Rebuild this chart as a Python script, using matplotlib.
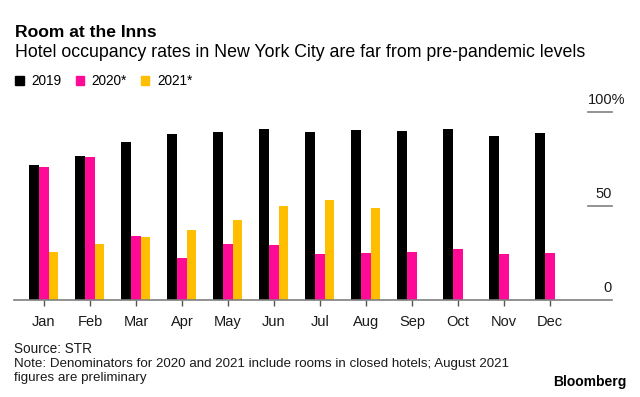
import numpy as np
import matplotlib
matplotlib.use('Agg')
from matplotlib import pyplot as plt
from matplotlib.patches import Patch
from matplotlib.transforms import blended_transform_factory

plt.rcParams['font.family'] = ['Liberation Sans', 'DejaVu Sans']

# occupancy rates (%)
months = ['Jan', 'Feb', 'Mar', 'Apr', 'May', 'Jun', 'Jul', 'Aug', 'Sep', 'Oct', 'Nov', 'Dec']
occ_2019 = [71.6, 76.8, 84.0, 88.3, 89.4, 90.8, 89.4, 90.2, 89.7, 90.8, 87.2, 88.8]
occ_2020 = [70.9, 76.3, 34.0, 22.5, 29.8, 29.3, 24.6, 25.2, 25.7, 27.3, 24.6, 25.2]
occ_2021 = [25.5, 29.8, 33.5, 37.1, 42.4, 50.2, 53.4, 49.1, 0, 0, 0, 0]
y_ticks = [0, 50, 100]
y_labels = ['0', '50', '100%']

series = [('2019', occ_2019, '#000000'),
          ('2020*', occ_2020, '#ff0a96'),
          ('2021*', occ_2021, '#ffbf00')]

fig = plt.figure(figsize=(6.4, 3.97), dpi=100)
ax = fig.add_axes([14 / 640, 1 - 300 / 397, (612 - 14) / 640, (300 - 112) / 397])

x = np.arange(len(months))
w = 0.21
for i, (name, vals, col) in enumerate(series):
    ax.bar(x + (i - 1) * w, vals, width=w, color=col, label=name, zorder=2)

ax.set_xlim(-0.65, 12.35)
ax.set_ylim(0, 100)
for s in ['top', 'right', 'left']:
    ax.spines[s].set_visible(False)
ax.spines['bottom'].set_color('#7f7f7f')
ax.spines['bottom'].set_linewidth(1.2)
ax.spines['bottom'].set_zorder(3)
ax.set_xticks(x)
ax.set_xticklabels(months, fontsize=10.5, color='#1a1a1a')
ax.tick_params(axis='x', length=4, width=1, color='#555555', pad=7)
ax.set_yticks([])

# right-hand value scale: short rules with labels sitting on top
tr = blended_transform_factory(ax.transAxes, ax.transData)
for v, lab in zip(y_ticks, y_labels):
    if v > 0:
        ax.plot([0.96, 1.0], [v, v], color='#7f7f7f', lw=1.2, transform=tr, clip_on=False)
    ax.text(1.0 if v < 100 else 1.0 + 13 / 598, v + 6.5, lab, transform=tr,
            ha='right', va='center', fontsize=10.5, color='#1a1a1a')

fig.text(15 / 640, 1 - 37 / 397, 'Room at the Inns', fontsize=12.6, fontweight='bold',
         va='baseline', ha='left')
fig.text(15 / 640, 1 - 57 / 397,
         'Hotel occupancy rates in New York City are far from pre-pandemic levels',
         fontsize=12.8, va='baseline', ha='left')

handles = [Patch(color=col, label=name) for name, vals, col in series]
fig.legend(handles=handles, loc='center left', bbox_to_anchor=(10 / 640, 1 - 81 / 397),
           ncol=3, frameon=False, fontsize=9.8, handlelength=0.6, handleheight=0.6,
           handletextpad=0.6, columnspacing=1.0, borderaxespad=0)

fig.text(14 / 640, 1 - 353 / 397, 'Source: STR', fontsize=9.8, va='baseline', color='#1a1a1a')
fig.text(14 / 640, 1 - 367 / 397,
         'Note: Denominators for 2020 and 2021 include rooms in closed hotels; August 2021',
         fontsize=9.6, va='baseline', color='#1a1a1a')
fig.text(14 / 640, 1 - 381 / 397, 'figures are preliminary', fontsize=9.6, va='baseline',
         color='#1a1a1a')
fig.text(626 / 640, 1 - 386 / 397, 'Bloomberg', fontsize=10, fontweight='bold',
         va='baseline', ha='right')

fig.savefig('out.png', dpi=100)
